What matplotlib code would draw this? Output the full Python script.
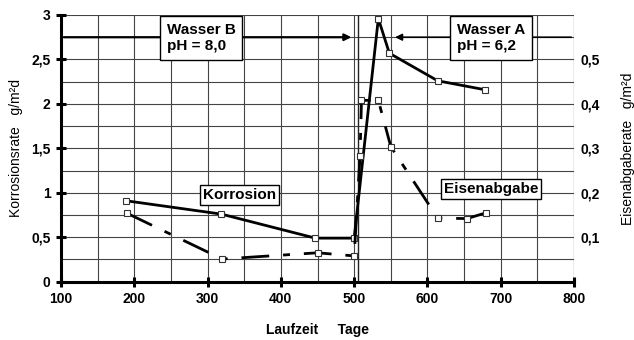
import matplotlib
matplotlib.use('Agg')
import matplotlib.pyplot as plt
import numpy as np

# Laufzeit in Tagen
korr_tage = [189, 319, 447, 500, 533, 548, 614, 678]
korr_rate = [0.91, 0.76, 0.49, 0.49, 2.96, 2.57, 2.26, 2.16]   # g/m²d

eisen_tage = [190, 320, 450, 500, 508, 510, 533, 550, 614, 654, 680]
eisen_rate = [0.154, 0.051, 0.065, 0.058, 0.282, 0.408, 0.408, 0.304, 0.143, 0.142, 0.155]  # g/m²d

x_ticks = [100, 200, 300, 400, 500, 600, 700, 800]
y_ticks = [0, 0.5, 1, 1.5, 2, 2.5, 3]
y_labels = ['0', '0,5', '1', '1,5', '2', '2,5', '3']
y2_ticks = [0.1, 0.2, 0.3, 0.4, 0.5]
y2_labels = ['0,1', '0,2', '0,3', '0,4', '0,5']

plt.rcParams['font.family'] = ['Liberation Sans', 'DejaVu Sans']

fig = plt.figure(figsize=(6.34, 3.4), dpi=100)
ax = fig.add_axes([0.0962, 0.1715, 0.8092, 0.7844])
ax2 = ax.twinx()

ax.set_xlim(100, 800)
ax.set_ylim(0, 3)
ax2.set_ylim(0, 0.6)

# Gitter
ax.set_xticks(np.arange(150, 800, 100), minor=True)
ax.set_yticks(np.arange(0.25, 3, 0.5), minor=True)
ax.grid(True, which='both', color='#444444', linewidth=0.8)
ax.axvline(800, color='#444444', linewidth=0.8)
ax.axvline(505, color='#222222', linewidth=1.0)
ax.set_axisbelow(True)

# Korrosion
ax.plot(korr_tage, korr_rate, color='black', linewidth=2, marker='s', markersize=4,
        markerfacecolor='white', markeredgecolor='#333333', markeredgewidth=0.8, zorder=5)
# Eisenabgabe
ax2.plot(eisen_tage, eisen_rate, color='black', linewidth=2, dashes=(10, 5, 2.5, 5),
         marker='s', markersize=4.5, markerfacecolor='white', markeredgecolor='#333333',
         markeredgewidth=0.8, zorder=5)

# Pfeile Wasser B / Wasser A
ax.annotate('', xy=(500, 2.75), xytext=(100, 2.75),
            arrowprops=dict(arrowstyle='-|>', color='black', lw=1.6, mutation_scale=10))
ax.annotate('', xy=(552, 2.75), xytext=(800, 2.75),
            arrowprops=dict(arrowstyle='-|>', color='black', lw=1.2, mutation_scale=10))

box = dict(boxstyle='square,pad=0.45', facecolor='white', edgecolor='black', linewidth=1)
ax.text(244, 2.745, 'Wasser B\npH = 8,0', fontsize=11, fontweight='bold', va='center',
        ha='left', linespacing=1.2, bbox=box, zorder=6)
ax.text(640, 2.745, 'Wasser A\npH = 6,2', fontsize=11, fontweight='bold', va='center',
        ha='left', linespacing=1.2, bbox=box, zorder=6)
small_box = dict(boxstyle='square,pad=0.2', facecolor='white', edgecolor='black', linewidth=1)
ax.text(344, 0.98, 'Korrosion', fontsize=11, fontweight='bold', va='center',
        ha='center', bbox=small_box, zorder=6)
ax.text(687, 1.045, 'Eisenabgabe', fontsize=11, fontweight='bold', va='center',
        ha='center', bbox=small_box, zorder=6)

# Achsen
ax.set_xticks(x_ticks)
ax.set_yticks(y_ticks)
ax.set_yticklabels(y_labels)
for lab in ax.get_xticklabels() + ax.get_yticklabels():
    lab.set_fontweight('bold')
    lab.set_fontsize(10)
ax.tick_params(axis='both', which='major', direction='inout', length=7, width=2.2,
               color='black', pad=4)
ax.tick_params(axis='both', which='minor', length=0)
for s in ['top', 'right']:
    ax.spines[s].set_visible(False)
for s in ['left', 'bottom']:
    ax.spines[s].set_linewidth(2.2)

ax2.set_yticks(y2_ticks)
ax2.set_yticklabels(y2_labels, fontsize=10, fontweight='bold')
ax2.tick_params(axis='y', length=0, pad=5)
for s in ax2.spines.values():
    s.set_visible(False)

ax.set_xlabel('Laufzeit     Tage', fontsize=10, fontweight='bold', labelpad=12)
ax.set_ylabel('Korrosionsrate   g/m²d', fontsize=10, labelpad=6)
ax2.set_ylabel('Eisenabgaberate   g/m²d', fontsize=10, labelpad=15)

fig.savefig('out.png', dpi=100, facecolor='white')
